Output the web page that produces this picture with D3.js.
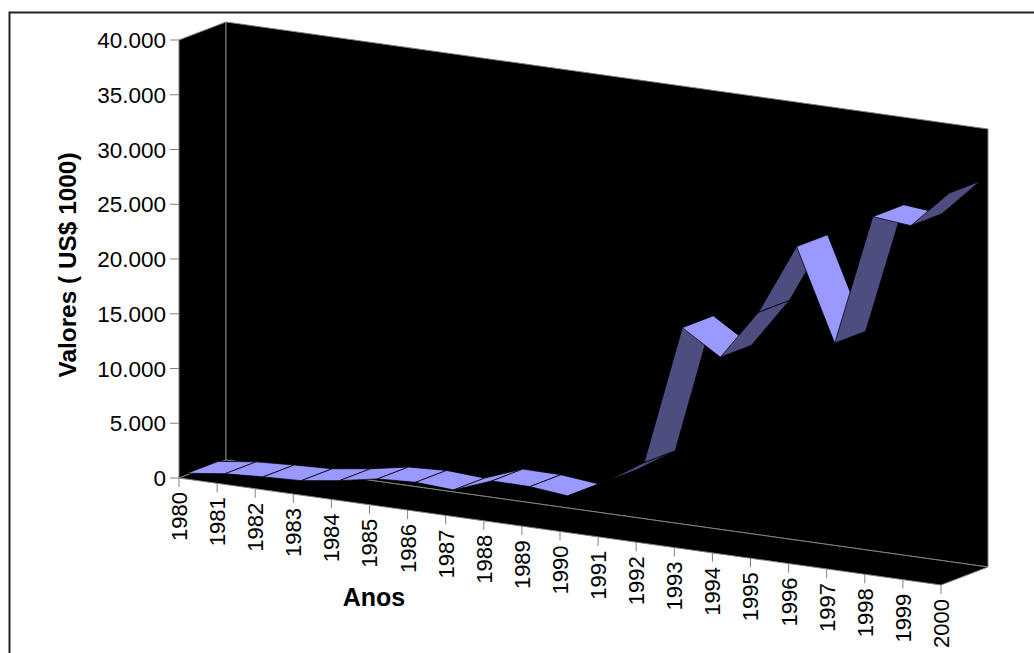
<!DOCTYPE html>
<html>
<head>
<meta charset="utf-8">
<script src="https://cdn.jsdelivr.net/npm/d3@7"></script>
<style>
  html, body { margin: 0; background: #fff; overflow: hidden; }
  svg { display: block; }
  text { font-family: "Liberation Sans", Arial, sans-serif; fill: #000; }
</style>
</head>
<body>
<svg id="chart"></svg>
<script>
const years = ['1980','1981','1982','1983','1984','1985','1986','1987','1988','1989','1990',
  '1991','1992','1993','1994','1995','1996','1997','1998','1999','2000'];
const values = [150, 600, 800, 945, 1430, 2080, 2260, 2050, 3360, 3330, 2970,
  4780, 6990, 19800, 17590, 22190, 28670, 20340, 32380, 32050, 35500];
const yTicks = [0, 5000, 10000, 15000, 20000, 25000, 30000, 35000, 40000];

const width = 1034, height = 653;

// front-left corner of the floor and the two oblique axes of the box
const origin = { x: 179, y: 478 };
const run = { x: 762, y: 107 };
const depth = { x: 47, y: -18 };
const ribbon = [0.17, 0.83];

const svg = d3.select('#chart').attr('width', width).attr('height', height);

const x = d3.scalePoint().domain(years).range([0, 1]);
const y = d3.scaleLinear().domain([0, 40000]).range([0, 438]);

// year + value + depth fraction -> screen position
const project = (year, value, d) => [
  origin.x + x(year) * run.x + d * depth.x,
  origin.y + x(year) * run.y + d * depth.y - y(value)
];
const line = d3.line();

// frame runs off the right and bottom of the page
svg.append('rect')
  .attr('x', 9.5).attr('y', 12.5)
  .attr('width', 1040).attr('height', 660)
  .attr('fill', 'none').attr('stroke', '#222').attr('stroke-width', 2);

// box walls
const firstYear = years[0], lastYear = years[years.length - 1], maxValue = y.domain()[1];
const walls = [
  [[firstYear, 0, 0], [firstYear, maxValue, 0], [firstYear, maxValue, 1], [firstYear, 0, 1]],
  [[firstYear, 0, 1], [firstYear, maxValue, 1], [lastYear, maxValue, 1], [lastYear, 0, 1]],
  [[firstYear, 0, 0], [firstYear, 0, 1], [lastYear, 0, 1], [lastYear, 0, 0]]
];
svg.append('g').selectAll('path')
  .data(walls)
  .join('path')
    .attr('d', d => line(d.map(p => project(...p))) + 'Z')
    .attr('fill', '#000')
    .attr('stroke', '#808080')
    .attr('stroke-width', 1);

// ribbon, left to right so later segments sit on top
const segments = d3.pairs(years.map((year, i) => ({ year, value: values[i] })));
svg.append('g').selectAll('path')
  .data(segments)
  .join('path')
    .attr('d', ([a, b]) => line([
      project(a.year, a.value, ribbon[0]),
      project(a.year, a.value, ribbon[1]),
      project(b.year, b.value, ribbon[1]),
      project(b.year, b.value, ribbon[0])
    ]) + 'Z')
    .attr('fill', ([a, b]) => {
      const p = project(a.year, a.value, 0), q = project(b.year, b.value, 0);
      // steeper than the depth direction: we see the underside
      return (q[1] - p[1]) / (q[0] - p[0]) < depth.y / depth.x ? '#4d4d80' : '#9999ff';
    })
    .attr('stroke', '#000')
    .attr('stroke-width', 0.75);

// y axis
const yAxis = svg.append('g');
yAxis.selectAll('line')
  .data(yTicks)
  .join('line')
    .attr('x1', origin.x - 9).attr('x2', origin.x)
    .attr('y1', d => origin.y - y(d)).attr('y2', d => origin.y - y(d))
    .attr('stroke', '#808080');
yAxis.selectAll('text')
  .data(yTicks)
  .join('text')
    .attr('x', origin.x - 13)
    .attr('y', d => origin.y - y(d))
    .attr('dy', '0.36em')
    .attr('text-anchor', 'end')
    .attr('font-size', 22.5)
    .text(d => d3.format(',')(d).replace(/,/g, '.'));

// x axis
const xAxis = svg.append('g');
xAxis.selectAll('line')
  .data(years)
  .join('line')
    .attr('x1', d => project(d, 0, 0)[0]).attr('x2', d => project(d, 0, 0)[0])
    .attr('y1', d => project(d, 0, 0)[1]).attr('y2', d => project(d, 0, 0)[1] + 9)
    .attr('stroke', '#808080');
xAxis.selectAll('text')
  .data(years)
  .join('text')
    .attr('transform', d => {
      const p = project(d, 0, 0);
      return `translate(${p[0]},${p[1] + 14}) rotate(-90)`;
    })
    .attr('dy', '0.36em')
    .attr('text-anchor', 'end')
    .attr('font-size', 22)
    .text(d => d);

// axis titles
svg.append('text')
  .attr('x', 374).attr('y', 606)
  .attr('text-anchor', 'middle')
  .attr('font-size', 25).attr('font-weight', 'bold')
  .text('Anos');
svg.append('text')
  .attr('transform', 'translate(76,265) rotate(-90)')
  .attr('text-anchor', 'middle')
  .attr('font-size', 24.4).attr('font-weight', 'bold')
  .text('Valores ( US$ 1000)');
</script>
</body>
</html>
